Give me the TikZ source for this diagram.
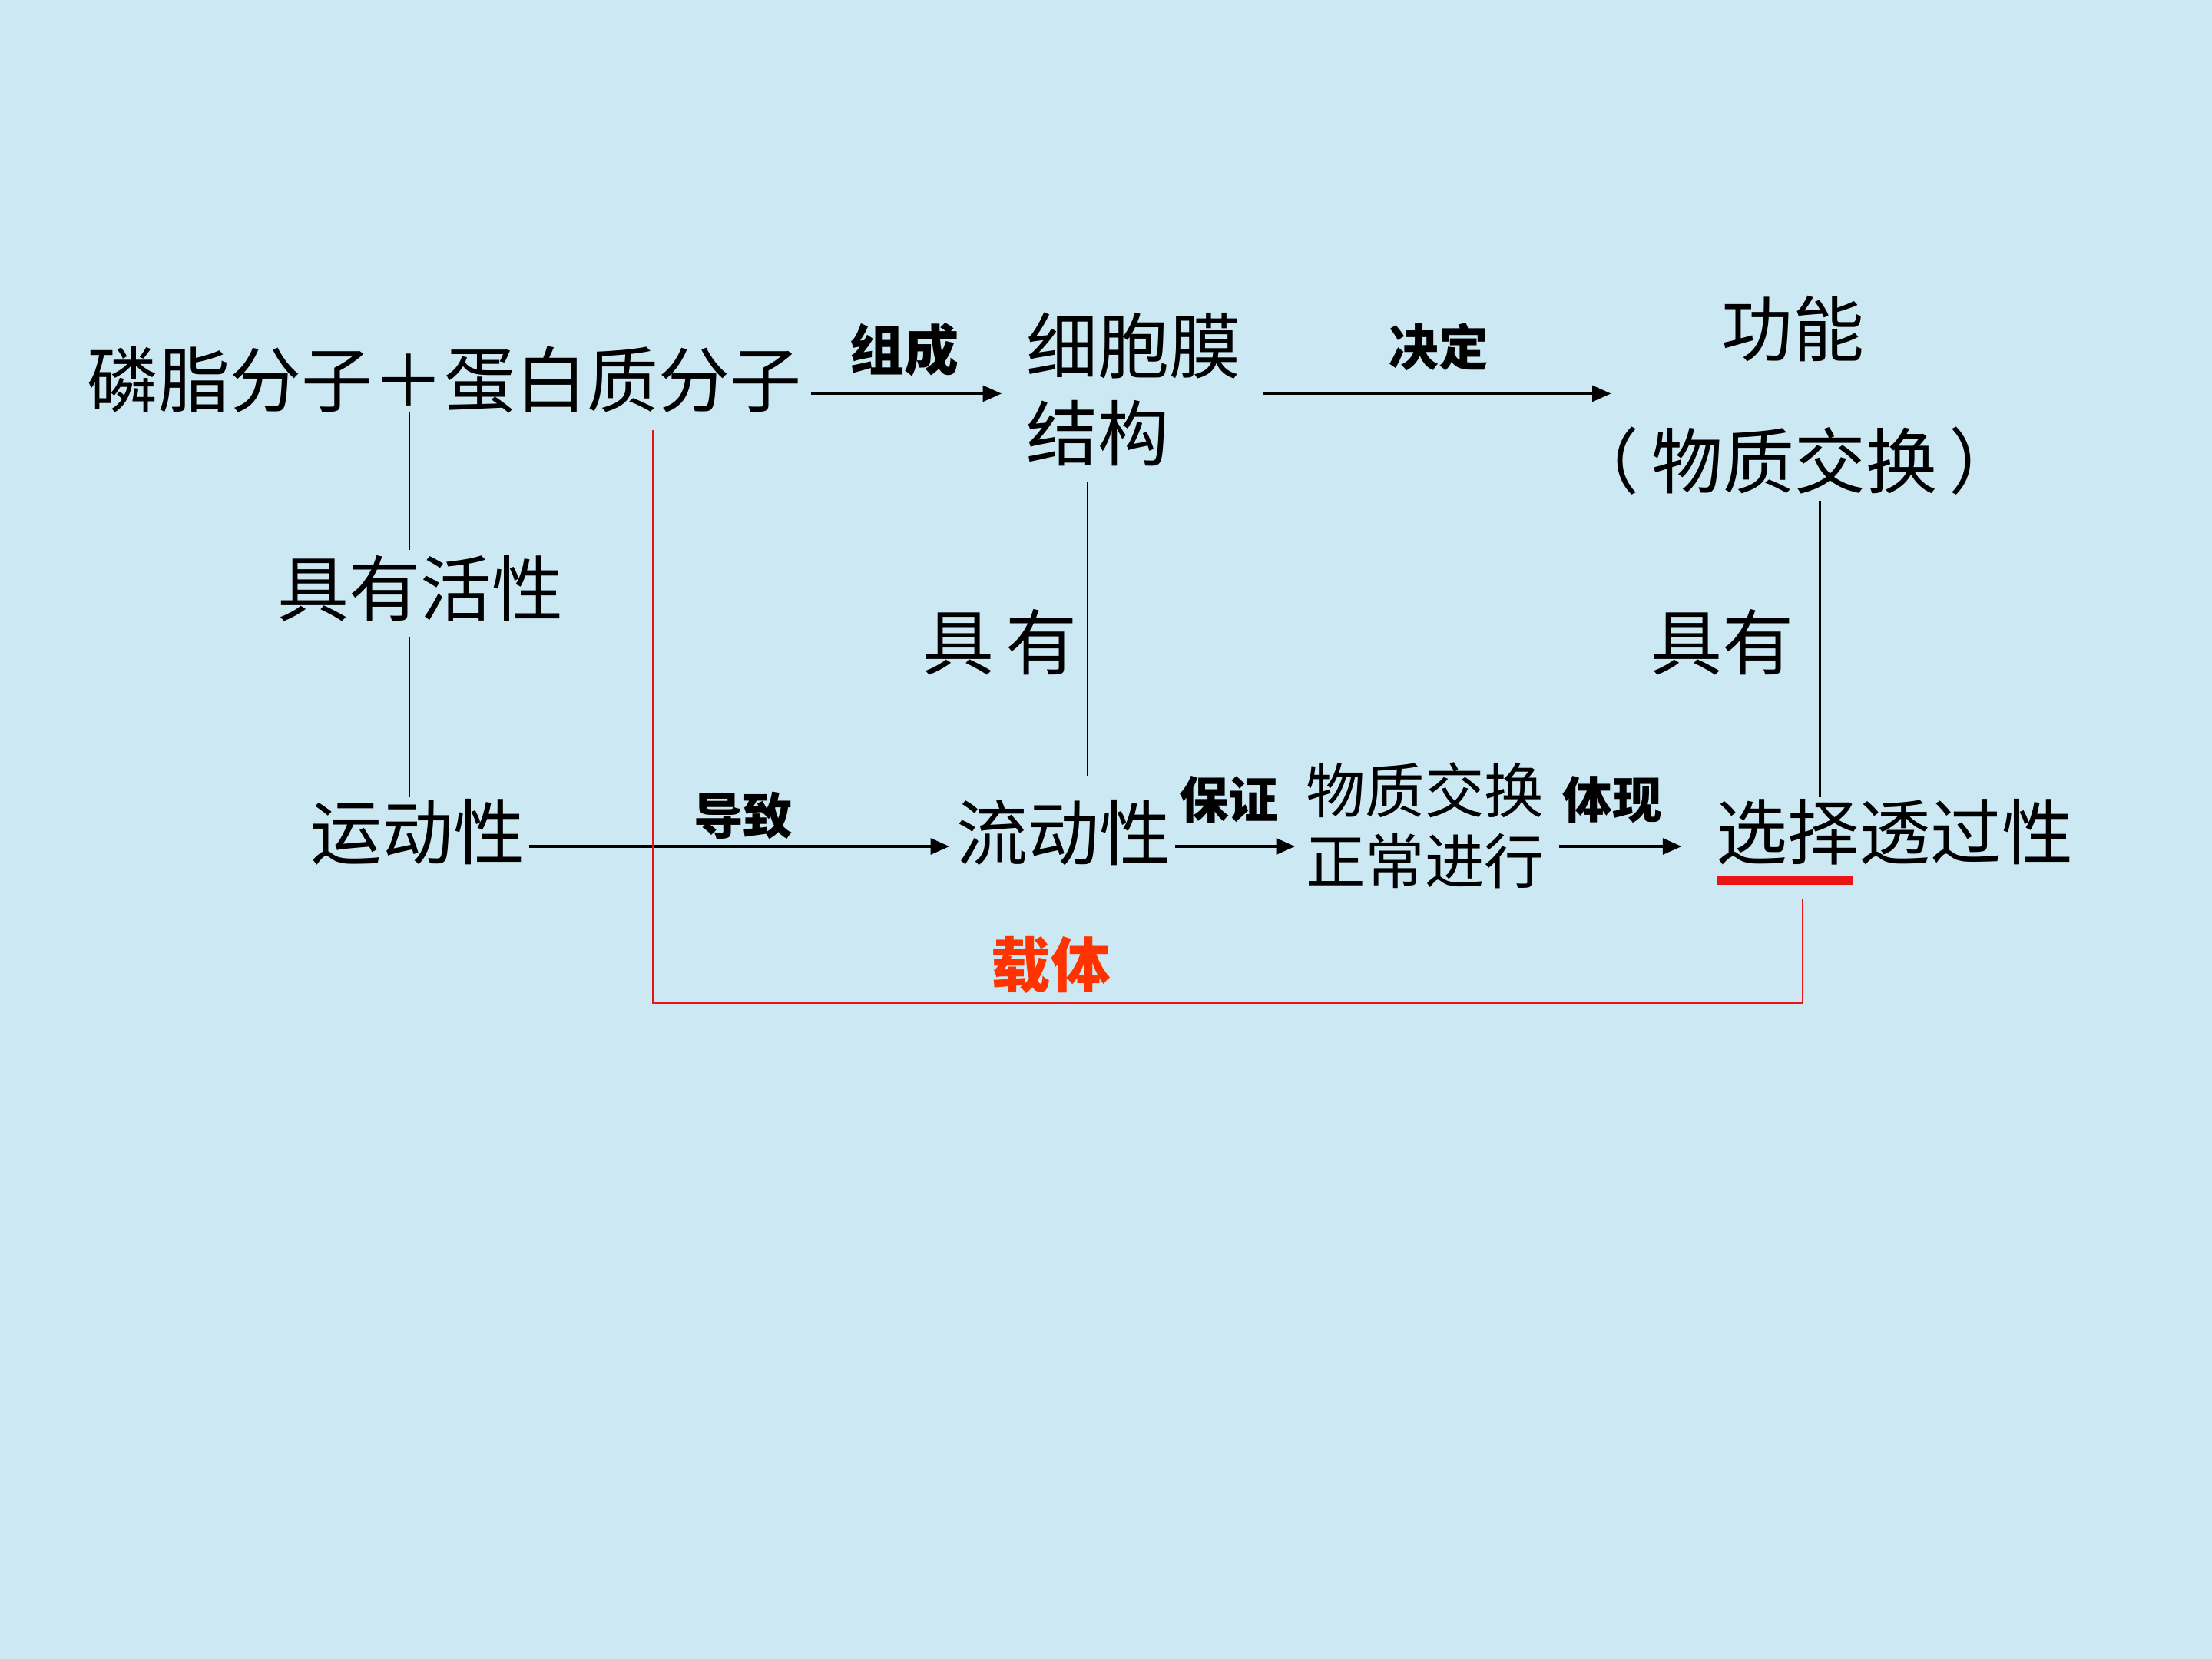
\documentclass[tikz,border=0pt]{standalone}
\usepackage{fontspec}
\usetikzlibrary{arrows.meta}
\newfontfamily\cjk{Noto Sans CJK SC}
\definecolor{bg}{RGB}{204,232,243}
\definecolor{carrier}{RGB}{255,51,0}
\definecolor{redline}{RGB}{235,20,20}
\begin{document}
\begin{tikzpicture}[x=0.01cm,y=-0.01cm,
  big/.style={font=\cjk\fontsize{14.4pt}{17.6pt}\selectfont, inner sep=0pt, text=black},
  mid/.style={font=\cjk\fontsize{12pt}{14.2pt}\selectfont, inner sep=0pt, text=black},
  lbl/.style={font=\cjk\bfseries\fontsize{10pt}{12pt}\selectfont, inner sep=0pt, text=black},
  arr/.style={draw=black, line width=0.6pt, -{Triangle[length=3.8pt,width=3.2pt]}},
  link/.style={draw=black, line width=0.35pt},
  rlink/.style={draw=redline, line width=0.35pt}]
\fill[bg] (0,0) rectangle (1568,1176);
\useasboundingbox (0,0) rectangle (1568,1176);

% main nodes
\node[big] (top) at (315,269) {磷脂分子＋蛋白质分子};
\node[big, anchor=west, align=left] (mem) at (727,276) {细胞膜\\结构};
\node[big] (func1) at (1271,233) {功能};
\node[big] (func2) at (1272,327) {（\,物质交换\,）};
\node[big] (act) at (298,417) {具有活性};
\node[big] (has1) at (709,455) {具\,有};
\node[big] (has2) at (1221,455) {具有};
\node[big] (mot) at (296,590) {运动性};
\node[big] (flow) at (754,590) {流动性};
\node[mid, align=center] (exch) at (1010,585) {物质交换\\正常进行};
\node[big] (sel) at (1343,590) {选择透过性};

% labels
\node[lbl, font=\cjk\bfseries\fontsize{11pt}{13pt}\selectfont] (l1) at (641,248) {组成};
\node[lbl] (l2) at (1020,246) {决定};
\node[lbl] (l3) at (527,578) {导致};
\node[lbl] (l4) at (871,567) {保证};
\node[lbl] (l5) at (1143,567) {体现};
\node[lbl, text=carrier, font=\cjk\bfseries\fontsize{12pt}{14pt}\selectfont] (l6) at (745,684) {载体};

% coordinates
\coordinate (a1s) at (575,279);
\coordinate (a1e) at (710,279);
\coordinate (a2s) at (895,279);
\coordinate (a2e) at (1142,279);
\coordinate (a3s) at (375,600);
\coordinate (a3e) at (673,600);
\coordinate (a4s) at (833,600);
\coordinate (a4e) at (918,600);
\coordinate (a5s) at (1105,600);
\coordinate (a5e) at (1192,600);

\coordinate (v1a) at (290,292);
\coordinate (v1b) at (290,390);
\coordinate (v1c) at (290,452);
\coordinate (v1d) at (290,565);
\coordinate (v2a) at (771,342);
\coordinate (v2b) at (771,550);
\coordinate (v3a) at (1290,355);
\coordinate (v3b) at (1290,565);

\coordinate (r1) at (463,305);
\coordinate (r2) at (463,711);
\coordinate (r3) at (1278,711);
\coordinate (r4) at (1278,637);
\coordinate (u1) at (1217,624);
\coordinate (u2) at (1314,624);

% arrows
\draw[arr] (a1s) -- (a1e);
\draw[arr] (a2s) -- (a2e);
\draw[arr] (a3s) -- (a3e);
\draw[arr] (a4s) -- (a4e);
\draw[arr] (a5s) -- (a5e);

% plain lines
\draw[link] (v1a) -- (v1b);
\draw[link] (v1c) -- (v1d);
\draw[link] (v2a) -- (v2b);
\draw[link] (v3a) -- (v3b);

% red carrier line
\draw[rlink] (r1) -- (r2) -- (r3) -- (r4);
\draw[draw=redline, line width=1.7pt] (u1) -- (u2);
\end{tikzpicture}
\end{document}
